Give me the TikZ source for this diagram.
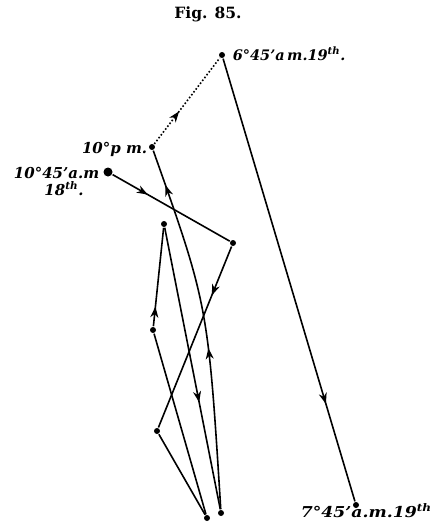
\documentclass[tikz,border=0pt]{standalone}
\usepackage{fontspec}
\setmainfont{DejaVu Serif}
\usetikzlibrary{arrows.meta,decorations.markings}
\begin{document}
\begin{tikzpicture}[x=1pt,y=-1pt, line width=1.6pt,
 dot/.style={circle,fill,inner sep=0pt,minimum size=6pt},
 bigdot/.style={circle,fill,inner sep=0pt,minimum size=9pt},
 lbl/.style={font=\fontsize{15}{17}\selectfont\bfseries\itshape, inner sep=0pt},
 lblmid/.style={font=\fontsize{14.5}{16}\selectfont\bfseries\itshape, inner sep=0pt},
 figlbl/.style={font=\fontsize{15.5}{17}\selectfont\bfseries, inner sep=0pt},
 arrowat/.style={postaction={decorate},decoration={markings,mark=at position #1 with {\arrow[solid]{Stealth[length=11pt,width=8pt,inset=3.5pt]}}}},
 arrowtwo/.style 2 args={postaction={decorate},decoration={markings,
   mark=at position #1 with {\arrow[solid]{Stealth[length=11pt,width=8pt,inset=3.5pt]}},
   mark=at position #2 with {\arrow[solid]{Stealth[length=11pt,width=8pt,inset=3.5pt]}}}},
]
\useasboundingbox (0,0) rectangle (432,522);
\node[bigdot] (A) at (108,172) {};
\node[dot] (B) at (233,243) {};
\node[dot] (P1) at (164,224) {};
\node[dot] (P2) at (153,330) {};
\node[dot] (P3) at (157,431) {};
\node[dot] (P4) at (207,518) {};
\node[dot] (P5) at (221,513) {};
\node[dot] (P6) at (152,147) {};
\node[dot] (P7) at (222,55) {};
\node[dot] (P8) at (356,505) {};

\draw[arrowat=0.3] (A) -- (B);
\draw[arrowat=0.27] (B) -- (P3);
\draw (P3) -- (P4);
\draw (P4) -- (P2);
\draw[arrowat=0.2] (P2) -- (P1);
\draw[arrowat=0.62] (P1) -- (P5);
\draw[arrowtwo={0.44}{0.9}] (P5) .. controls (208,305) .. (P6);
\draw[dash pattern=on 1.6pt off 2pt, arrowat=0.38] (P6) -- (P7);
\draw[arrowat=0.78] (P7) -- (P8);

\node[figlbl, anchor=base] (fig) at (208,18) {Fig. 85.};
\node[lblmid, anchor=base west] (L7) at (232,60) {6°45'a\,m.19\textsuperscript{th}.};
\node[lbl, anchor=base east] (L6) at (148,153) {10°p m.};
\node[lbl, anchor=base east] (LA) at (100,178) {10°45'a.m};
\node[lbl, anchor=base] (LA2) at (64,195) {18\textsuperscript{th}.};
\node[lbl, anchor=base west] (L8) at (300,517) {\scalebox{1.15}[1]{7°45'a.m.19\textsuperscript{th}}};
\end{tikzpicture}
\end{document}
